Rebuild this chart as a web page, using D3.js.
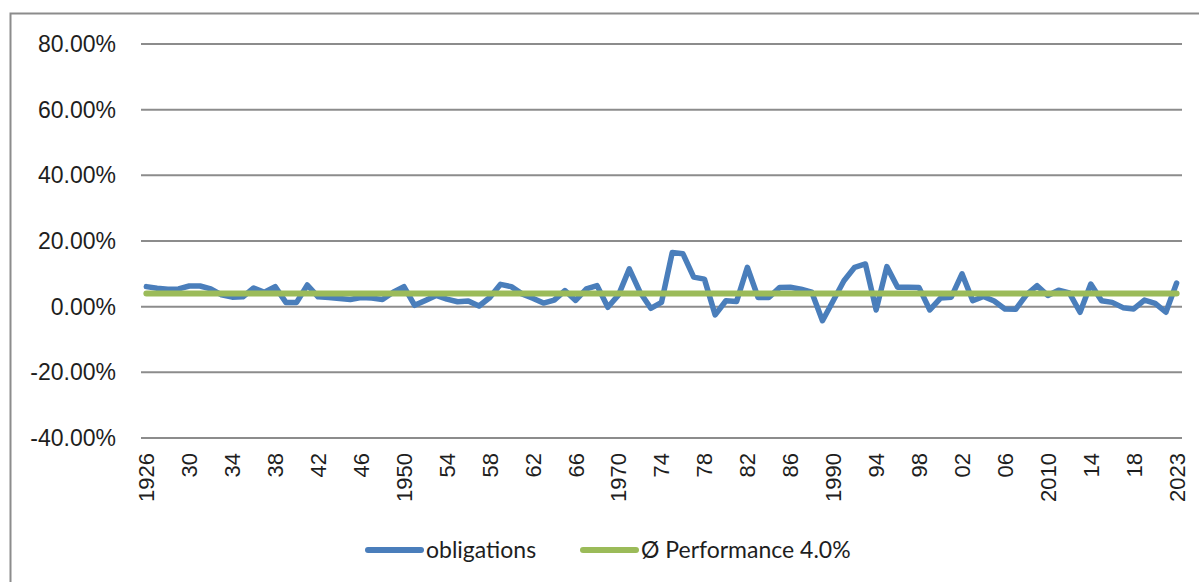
<!DOCTYPE html>
<html>
<head>
<meta charset="utf-8">
<script src="https://cdn.jsdelivr.net/npm/d3@7"></script>
<style>
  body { margin: 0; background: #fff; }
  svg { display: block; font-family: Lato, "Open Sans", sans-serif; }
  .axis path, .axis line { display: none; }
  .axis text { fill: #1e1e1e; }
</style>
</head>
<body>
<svg id="chart"></svg>
<script>
// categories: 2022 is not in the series, the last point is 2023
var years = ["1926","1927","1928","1929","1930","1931","1932","1933","1934","1935",
  "1936","1937","1938","1939","1940","1941","1942","1943","1944","1945",
  "1946","1947","1948","1949","1950","1951","1952","1953","1954","1955",
  "1956","1957","1958","1959","1960","1961","1962","1963","1964","1965",
  "1966","1967","1968","1969","1970","1971","1972","1973","1974","1975",
  "1976","1977","1978","1979","1980","1981","1982","1983","1984","1985",
  "1986","1987","1988","1989","1990","1991","1992","1993","1994","1995",
  "1996","1997","1998","1999","2000","2001","2002","2003","2004","2005",
  "2006","2007","2008","2009","2010","2011","2012","2013","2014","2015",
  "2016","2017","2018","2019","2020","2021","2023"];

// yearly performance of obligations, in %
var obligations = [6.1,5.6,5.3,5.4,6.3,6.3,5.4,3.6,2.9,3.0,
  5.7,4.4,6.1,1.3,1.3,6.6,3.0,2.8,2.5,2.2,
  2.8,2.6,2.2,4.4,6.1,0.4,1.9,3.4,2.3,1.5,
  1.7,0.2,2.8,6.8,6.1,3.9,2.6,1.1,2.0,4.9,
  1.9,5.4,6.4,-0.2,3.6,11.5,4.4,-0.5,1.3,16.5,
  16.1,9.0,8.4,-2.5,1.8,1.6,12.0,2.8,2.8,5.8,
  5.9,5.3,4.4,-4.3,1.8,7.9,12.0,13.0,-1.0,12.2,
  5.9,5.9,5.8,-1.0,2.6,2.9,10.0,1.8,3.1,1.7,
  -0.7,-0.8,3.6,6.4,3.4,5.0,4.2,-1.7,6.9,1.8,
  1.3,-0.3,-0.7,2.0,1.0,-1.7,7.2];

var avgPerformance = 4.0;

var tickYears = ["1926","1930","1934","1938","1942","1946","1950","1954","1958","1962",
  "1966","1970","1974","1978","1982","1986","1990","1994","1998","2002",
  "2006","2010","2014","2018","2023"];
var tickLabels = ["1926","30","34","38","42","46","1950","54","58","62",
  "66","1970","74","78","82","86","1990","94","98","02",
  "06","2010","14","18","2023"];

var yTicks = [-40, -20, 0, 20, 40, 60, 80];

var seriesNames = ["obligations", "\u00D8 Performance 4.0%"];
var seriesColors = ["#4a7ebb", "#9bbb59"];

var W = 1199, H = 582;
var margin = {top: 44, right: 17, bottom: 144, left: 141},
    width = W - margin.left - margin.right,
    height = H - margin.top - margin.bottom;

var svg = d3.select("#chart").attr("width", W).attr("height", H);

// outer chart border
svg.append("rect")
  .attr("x", 10.5).attr("y", 13.5)
  .attr("width", W).attr("height", H)
  .attr("fill", "none").attr("stroke", "#8c8c8c").attr("stroke-width", 2);

var g = svg.append("g")
  .attr("transform", "translate(" + margin.left + "," + margin.top + ")");

var x = d3.scaleBand().domain(years).range([0, width]).padding(0);
var y = d3.scaleLinear().domain([-40, 80]).range([height, 0]);
var cx = function(d) { return x(d) + x.bandwidth() / 2; };

// gridlines
g.selectAll(".grid")
  .data(yTicks)
  .enter().append("line")
    .attr("class", "grid")
    .attr("x1", 0).attr("x2", width)
    .attr("y1", function(d) { return y(d); })
    .attr("y2", function(d) { return y(d); })
    .attr("stroke", "#8c8c8c").attr("stroke-width", 2);

// y axis labels
g.append("g")
  .attr("class", "axis axis-y")
  .attr("transform", "translate(-25,0)")
  .call(d3.axisLeft(y).tickValues(yTicks).tickSize(0)
    .tickFormat(function(d) { return d.toFixed(2) + "%"; }))
  .selectAll("text")
    .attr("x", 0)
    .style("font-size", "23px");

// x axis labels, rotated
g.append("g")
  .attr("class", "axis axis-x")
  .attr("transform", "translate(0," + (height + 15) + ")")
  .call(d3.axisBottom(x).tickValues(tickYears).tickSize(0)
    .tickFormat(function(d, i) { return tickLabels[i]; }))
  .selectAll("text")
    .style("font-size", "22px")
    .style("text-anchor", "end")
    .attr("y", 0)
    .attr("x", 0)
    .attr("dy", "0.36em")
    .attr("transform", "rotate(-90)");

// obligations line
var line = d3.line()
  .x(function(d, i) { return cx(years[i]); })
  .y(function(d) { return y(d); });

g.append("path")
  .datum(obligations)
  .attr("d", line)
  .attr("fill", "none")
  .attr("stroke", seriesColors[0])
  .attr("stroke-width", 5.5)
  .attr("stroke-linejoin", "round")
  .attr("stroke-linecap", "round");

// average performance line
g.append("path")
  .datum(years.map(function() { return avgPerformance; }))
  .attr("d", line)
  .attr("fill", "none")
  .attr("stroke", seriesColors[1])
  .attr("stroke-width", 6)
  .attr("stroke-linecap", "round");

// legend
var legendItems = [{x: 368, tx: 426}, {x: 583, tx: 641}];
var legend = svg.append("g").attr("transform", "translate(0,550)");
legendItems.forEach(function(it, i) {
  legend.append("line")
    .attr("x1", it.x).attr("x2", it.x + 53)
    .attr("stroke", seriesColors[i]).attr("stroke-width", 6)
    .attr("stroke-linecap", "round");
  legend.append("text")
    .attr("x", it.tx).attr("dy", "0.36em")
    .style("font-size", "23px").attr("fill", "#1e1e1e")
    .text(seriesNames[i]);
});
</script>
</body>
</html>
